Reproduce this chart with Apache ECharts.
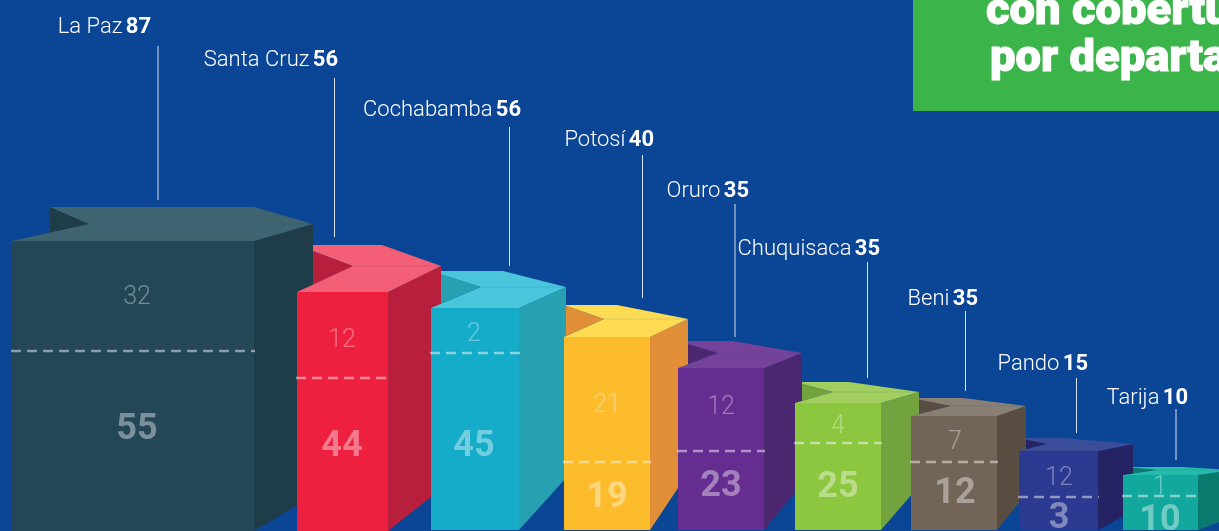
<!DOCTYPE html>
<html>
<head>
<meta charset="utf-8">
<style>
  html, body { margin: 0; padding: 0; background: #0b4595; }
  #main { width: 1219px; height: 531px; }
</style>
<script src="https://cdn.jsdelivr.net/npm/echarts@6/dist/echarts.min.js"></script>
</head>
<body>
<div id="main"></div>
<script>
// printed numbers
var departments = ['La Paz', 'Santa Cruz', 'Cochabamba', 'Potosí', 'Oruro', 'Chuquisaca', 'Beni', 'Pando', 'Tarija'];
var totals = [87, 56, 56, 40, 35, 35, 35, 15, 10];
var lowerValues = [55, 44, 45, 19, 23, 25, 12, 3, 10];
var upperValues = [32, 12, 2, 21, 12, 4, 7, 12, 1];

// the boxes are not drawn to scale in the original, so their extents are read off it (axis units)
var barStart = [12, 297, 431, 564, 678, 795, 911, 1019, 1123];
var barEnd = [254, 388, 519, 650, 764, 881, 997, 1098, 1198];
var barBase = [0, 0, 1, 1, 1, 1, 1, 1, 1];
var lowerDrawn = [180, 153, 178, 69, 80, 88, 69, 34, 35];
var totalDrawn = [290, 239, 223, 194, 163, 128, 115, 80, 56];

// 3d depth of each box
var cornerX = [313, 441, 566, 688, 802, 919, 1026, 1133, 1233];
var cornerTop = [307, 265, 244, 212, 178, 139, 125, 87, 61];
var cornerFoot = [35, 42, 53, 58, 47, 45, 37, 20, 14];
var backEnd = [254, 382, 503, 617, 732, 849, 963, 1063, 1183];
var backTop = [324, 286, 260, 226, 190, 149, 133, 93, 64];
var backStart = [50, 297, 431, 564, 678, 795, 911, 1019, 1123];
var notchX = [89, 353, 481, 604, 718, 833, 951, 1047, 1157];

// labels and leader lines
var valueX = [137, 342, 474, 607, 721, 838, 955, 1059, 1160];
var upperLabelY = [233, 190, 196, 125, 123, 104, 88, 52, 43];
var lowerLabelY = [101, 84, 84, 33, 44, 43, 37, 12, 10];
var nameEnd = [151, 338, 521, 654, 749, 880, 978, 1088, 1188];
var nameY = [504, 471, 421, 391, 340, 282, 232, 167, 133];
var leaderX = [158, 334.5, 509.5, 642.5, 735, 867.5, 965.5, 1076.5, 1176];
var leaderTop = [485, 453, 404, 376, 327, 269, 220, 153, 122];
var leaderBottom = [331, 294, 265, 233, 194, 153, 140, 98, 71];

var frontColors = ['#244758', '#ed2040', '#14acc8', '#fcbc2c', '#652d90', '#8dc63f', '#726557', '#2b3990', '#13a89e'];
var sideColors = ['#1f3c49', '#b81f3c', '#27a0b2', '#e08f38', '#4a276e', '#72a33f', '#594d42', '#252364', '#0a7a6e'];
var lidColors = ['#3e6472', '#f45f78', '#49c6dc', '#fddb52', '#744399', '#a3cf5f', '#8a7f73', '#3c4d9a', '#26bba9'];

var labelFont = 'Roboto';

function poly(points, color) {
  return { type: 'polygon', shape: { points: points }, style: { fill: color } };
}

// back of the lid and the dark notch, goes under every box
function renderBack(params, api) {
  var i = params.dataIndex;
  var pos = function (x, y) { return api.coord([x, y]); };
  return {
    type: 'group',
    children: [
      poly([pos(backStart[i], backTop[i]), pos(notchX[i], cornerTop[i]), pos(backStart[i], totalDrawn[i])], sideColors[i]),
      poly([pos(backStart[i], backTop[i]), pos(backEnd[i], backTop[i]), pos(cornerX[i], cornerTop[i]), pos(notchX[i], cornerTop[i])], lidColors[i])
    ]
  };
}

function renderBox(params, api) {
  var i = params.dataIndex;
  var pos = function (x, y) { return api.coord([x, y]); };
  var l = barStart[i], r = barEnd[i], t = totalDrawn[i], b = barBase[i];
  var dashA = pos(l - 1, lowerDrawn[i]), dashB = pos(r + 1, lowerDrawn[i]);
  var seamA = pos(notchX[i], cornerTop[i]), seamB = pos(cornerX[i], cornerTop[i]);
  var upper = pos(valueX[i], upperLabelY[i]), lower = pos(valueX[i], lowerLabelY[i]);
  return {
    type: 'group',
    children: [
      poly([pos(r, t), pos(cornerX[i], cornerTop[i]), pos(cornerX[i], cornerFoot[i]), pos(r, b)], sideColors[i]),
      poly([pos(l, t), pos(r, t), pos(r, b), pos(l, b)], frontColors[i]),
      poly([pos(l, t), pos(notchX[i], cornerTop[i]), pos(cornerX[i], cornerTop[i]), pos(r, t)], lidColors[i]),
      {
        type: 'line',
        shape: { x1: seamA[0], y1: seamA[1], x2: seamB[0], y2: seamB[1] },
        style: { stroke: 'rgba(11,69,149,0.12)', lineWidth: 1 }
      },
      {
        type: 'line',
        shape: { x1: dashA[0], y1: dashA[1], x2: dashB[0], y2: dashB[1] },
        style: { stroke: 'rgba(255,255,255,0.48)', lineWidth: 2.5, lineDash: [10, 6] }
      },
      {
        type: 'text',
        style: {
          x: upper[0], y: upper[1], text: String(upperValues[i]), align: 'center', verticalAlign: 'middle',
          font: '300 25px ' + labelFont, fill: 'rgba(255,255,255,0.36)'
        }
      },
      {
        type: 'text',
        style: {
          x: lower[0], y: lower[1], text: String(lowerValues[i]), align: 'center', verticalAlign: 'middle',
          font: '700 36px ' + labelFont, fill: 'rgba(255,255,255,0.4)'
        }
      }
    ]
  };
}

function renderName(params, api) {
  var i = params.dataIndex;
  var a = api.coord([leaderX[i], leaderTop[i]]), b = api.coord([leaderX[i], leaderBottom[i]]);
  var label = api.coord([nameEnd[i], nameY[i]]);
  return {
    type: 'group',
    children: [
      {
        type: 'line',
        shape: { x1: a[0], y1: a[1], x2: b[0], y2: b[1] },
        style: { stroke: 'rgba(255,255,255,0.85)', lineWidth: 1 }
      },
      {
        type: 'text',
        style: {
          x: label[0], y: label[1], align: 'right', verticalAlign: 'middle',
          text: '{n|' + departments[i] + '} {v|' + totals[i] + '}',
          rich: {
            n: { fontFamily: labelFont, fontWeight: 300, fontSize: 22, fill: '#fff', color: '#fff' },
            v: { fontFamily: labelFont, fontWeight: 700, fontSize: 22, fill: '#fff', color: '#fff' }
          }
        }
      }
    ]
  };
}

var chart = echarts.init(document.getElementById('main'));
var rows = departments.map(function (d, i) { return [barStart[i], totalDrawn[i]]; });

chart.setOption({
  backgroundColor: '#0b4595',
  animation: false,
  grid: { left: 0, right: 0, top: 0, bottom: 0 },
  xAxis: { type: 'value', min: 0, max: 1219, show: false },
  yAxis: { type: 'value', min: 0, max: 531, show: false },
  graphic: [
    { type: 'rect', shape: { x: 913, y: -10, width: 320, height: 121 }, style: { fill: '#3bb54a' }, z: 10 },
    {
      type: 'text', x: 986, y: 35, scaleX: 1.03, z: 11,
      style: { text: 'con cobertura', font: '900 44px Roboto', fill: '#fff', stroke: '#fff', lineWidth: 1, verticalAlign: 'bottom' }
    },
    {
      type: 'text', x: 990, y: 82, scaleX: 1.03, z: 11,
      style: { text: 'por departamento', font: '900 44px Roboto', fill: '#fff', stroke: '#fff', lineWidth: 1, verticalAlign: 'bottom' }
    }
  ],
  series: [
    { type: 'custom', name: 'fondo', data: rows, renderItem: renderBack, z: 1, clip: false, silent: true },
    { type: 'custom', name: 'cajas', data: rows, renderItem: renderBox, z: 2, clip: false, silent: true },
    { type: 'custom', name: 'nombres', data: rows, renderItem: renderName, z: 3, clip: false, silent: true }
  ]
});
</script>
</body>
</html>
